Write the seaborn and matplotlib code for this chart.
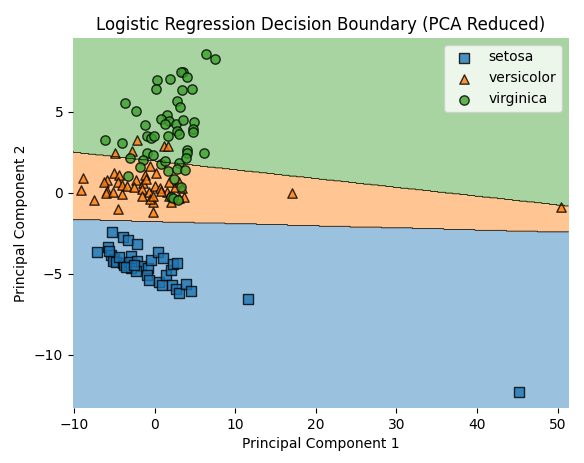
import numpy as np
import matplotlib
matplotlib.use("Agg")
import matplotlib.pyplot as plt
import seaborn as sns

# class names, colours and markers (mlxtend-like look)
class_names = ["setosa", "versicolor", "virginica"]
class_colors = ["#1f77b4", "#ff7f0e", "#3ca02c"]
class_markers = ["s", "^", "o"]

# PCA points
setosa_x = [-5.29, -3.92, -3.30, -2.19, -7.14, -5.79, -5.36, -5.04, -5.17, -4.75,
            -3.92, -3.81, -2.89, -3.19, -2.19, -1.73, -2.97, -2.35, -0.83, -0.50,
            0.41, 1.03, -0.96, -0.66, 0.59, 0.91, 1.40, 1.98, 2.31, 2.76,
            2.15, 2.64, 3.01, 3.87, 4.50, 11.60, 45.21, -4.46, -3.59, -2.61, -5.70]
setosa_y = [-2.46, -2.77, -2.95, -3.20, -3.69, -3.36, -3.86, -4.10, -4.25, -4.31,
            -4.37, -4.46, -3.94, -4.31, -4.21, -4.56, -4.68, -4.86, -4.68, -4.19,
            -3.69, -4.06, -5.09, -5.38, -5.52, -5.73, -5.09, -4.78, -4.40, -4.37,
            -5.73, -5.96, -6.22, -5.65, -6.10, -6.57, -12.3, -3.98, -4.60, -4.48, -3.61]

versicolor_x = [-4.91, -2.85, -2.19, 1.15, 1.70, -8.92, -9.13, -7.55, -4.55, -0.25,
                -0.25, -5.04, -4.42, -5.86, -6.28, -5.94, -5.98, -5.17, -4.09, -4.58,
                -4.00, -3.38, -2.35, -2.57, -1.40, -1.58, -0.66, 0.12, -0.58, -1.24,
                -1.08, 0.03, 0.65, -0.53, -0.21, 1.82, 2.56, 1.58, 3.01, 3.38,
                3.63, 1.98, -1.53, 17.10, 50.42, 1.77, 3.01, 0.74]
versicolor_y = [2.44, 2.58, 3.24, 2.89, 2.85, 0.88, 0.15, -0.48, -0.98, -1.20,
                -0.57, 1.22, 1.08, 0.77, 0.63, 0.11, -0.05, 0.01, -0.09, 0.67,
                0.48, 0.38, 0.77, 0.36, 0.57, 0.22, 0.05, 1.22, 1.64, 1.08,
                0.83, 0.42, 0.30, -0.40, -0.22, 0.67, 0.32, 0.07, 0.63, 0.26,
                -0.30, -0.57, -0.20, -0.03, -0.90, -0.20, -0.36, 0.11]

virginica_x = [6.32, 7.43, 3.47, 3.22, 3.96, 0.29, 1.86, 0.16, 3.38, 4.58,
               -3.68, -2.31, 2.76, 3.14, 1.49, 0.83, 1.77, 1.27, 2.64, 3.47,
               4.86, 4.75, 4.75, 2.73, 3.01, -1.24, 1.64, -6.19, -4.05, -1.00,
               -0.50, -0.03, 3.96, 4.00, 6.07, -0.91, -0.21, -3.06, -1.45, -1.82,
               0.78, 1.24, 3.01, 3.87, 1.64, 2.81, 3.76, -3.30, 2.39, 3.25,
               1.98, 2.26, 2.89]
virginica_y = [8.55, 8.28, 7.48, 7.44, 7.17, 6.93, 6.99, 6.37, 6.33, 6.37,
               5.51, 5.03, 5.65, 5.26, 4.77, 4.54, 4.41, 4.21, 4.21, 4.46,
               4.35, 3.96, 3.72, 3.80, 3.63, 4.15, 3.47, 3.24, 3.04, 3.47,
               3.35, 3.47, 2.64, 2.46, 2.42, 2.46, 2.31, 2.17, 2.02, 1.59,
               1.76, 1.94, 1.84, 2.15, 1.33, 1.43, 1.37, 1.04, 0.83, 0.32,
               -0.26, -0.36, -0.46]

# linear scores of the fitted model (one row per class: [w_pc1, w_pc2], bias)
coef_w = [[-0.0129, -1.0], [0.0, 0.0], [0.0542, 1.0]]
coef_b = [-1.787, 0.0, -1.955]


def main():
    xs = [setosa_x, versicolor_x, virginica_x]
    ys = [setosa_y, versicolor_y, virginica_y]
    all_x = np.concatenate(xs)
    all_y = np.concatenate(ys)
    x_min, x_max = all_x.min() - 1, all_x.max() + 1
    y_min, y_max = all_y.min() - 1, all_y.max() + 1

    fig = plt.figure(figsize=(5.84, 4.63), dpi=100)
    ax = fig.add_axes([73 / 584, 55 / 463, 496 / 584, 370 / 463])

    # decision regions
    xx, yy = np.meshgrid(np.arange(x_min, x_max, 0.05), np.arange(y_min, y_max, 0.05))
    W = np.array(coef_w)
    b = np.array(coef_b)
    scores = xx[..., None] * W[:, 0] + yy[..., None] * W[:, 1] + b
    Z = scores.argmax(axis=-1)
    ax.contourf(xx, yy, Z, levels=[-0.5, 0.5, 1.5, 2.5], colors=class_colors, alpha=0.45)
    ax.contour(xx, yy, Z, levels=[0.5, 1.5], colors="k", linewidths=0.5)

    for name, col, mk, px, py in zip(class_names, class_colors, class_markers, xs, ys):
        sns.scatterplot(x=px, y=py, ax=ax, marker=mk, color=col, s=45,
                        edgecolor="black", linewidth=1, alpha=0.8, label=name)

    ax.set_xlim(x_min, x_max)
    ax.set_ylim(y_min, y_max)
    for sp in ax.spines.values():
        sp.set_visible(False)
    ax.set_xlabel("Principal Component 1")
    ax.set_ylabel("Principal Component 2")
    ax.set_title("Logistic Regression Decision Boundary (PCA Reduced)")
    ax.legend(loc="upper right")

    fig.savefig("out.png", dpi=100)


if __name__ == "__main__":
    main()
